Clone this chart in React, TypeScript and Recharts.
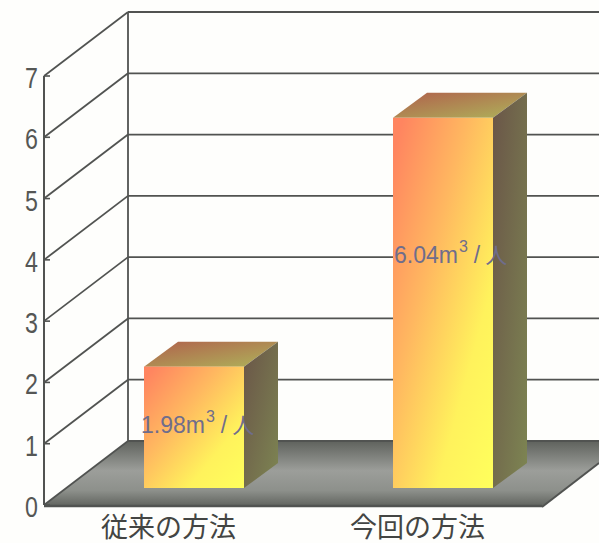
import { Bar, BarChart, LabelList, XAxis, YAxis, usePlotArea } from "recharts";

const methods = ["従来の方法", "今回の方法"];
const volumes = [1.98, 6.04];
const yTicks = [0, 1, 2, 3, 4, 5, 6, 7];

const chartData = methods.map((method, i) => ({
  method,
  volume: volumes[i],
}));

const LINE = "#515351";
const WALL_DX = 84;
const WALL_DY = 64;
const BAR_DX = 25;
const BAR_DY = 17;
const DEPTH_X = 34;
const DEPTH_Y = 25;
const YMAX = 7;
// where each bar's caption sits relative to the bar's foot
const CAPTION_PLACEMENT = [
  { dx: -3, lift: 55 },
  { dx: 1, lift: 225 },
];

// back wall, side wall and floor of the 3D box
function Walls() {
  const plot = usePlotArea();
  if (!plot) return null;
  const yOf = (v: number) => plot.y + plot.height * (1 - v / YMAX);
  const left = plot.x;
  const right = plot.x + plot.width - 1;
  const base = yOf(0);
  const backX = left + WALL_DX;
  return (
    <g>
      <defs>
        <linearGradient id="floor" x1="0" y1="0" x2="0" y2="1">
          <stop offset="0" stopColor="#5f625d" />
          <stop offset="0.45" stopColor="#9c9e9a" />
          <stop offset="0.75" stopColor="#8d908b" />
          <stop offset="1" stopColor="#5e615c" />
        </linearGradient>
        <linearGradient id="front" x1="0" y1="0" x2="1" y2="1">
          <stop offset="0.05" stopColor="#ff8560" />
          <stop offset="0.38" stopColor="#ffb860" />
          <stop offset="0.72" stopColor="#fff25c" />
          <stop offset="1" stopColor="#ffff5c" />
        </linearGradient>
        <linearGradient id="side" x1="0" y1="0" x2="1" y2="1">
          <stop offset="0" stopColor="#6a5548" />
          <stop offset="1" stopColor="#7d8552" />
        </linearGradient>
        <linearGradient id="top" x1="0" y1="0" x2="1" y2="1">
          <stop offset="0" stopColor="#b0604c" />
          <stop offset="1" stopColor="#aeb45a" />
        </linearGradient>
      </defs>
      <polygon
        points={`${left},${base} ${backX},${base - WALL_DY} 599,${base - WALL_DY} 599,${base - 42} ${right + 1},${base + 2} ${left},${base + 2}`}
        fill="url(#floor)"
      />
      <line x1={right + 1} y1={base + 2} x2={599} y2={base - 42} stroke={LINE} strokeWidth={2} />
      <line x1={left} y1={base + 1} x2={right + 1} y2={base + 1} stroke={LINE} strokeWidth={2.5} />
      <line x1={backX} y1={yOf(YMAX) - WALL_DY} x2={backX} y2={base - WALL_DY} stroke={LINE} strokeWidth={1.8} />
      {yTicks.map((t) => (
        <g key={t}>
          <line x1={left} y1={yOf(t)} x2={backX} y2={yOf(t) - WALL_DY} stroke={LINE} strokeWidth={1.8} />
          <line x1={backX} y1={yOf(t) - WALL_DY} x2={599} y2={yOf(t) - WALL_DY} stroke={LINE} strokeWidth={1.8} />
        </g>
      ))}
    </g>
  );
}

function Block(props: any) {
  const x = props.x + BAR_DX;
  const y = props.y - BAR_DY;
  const w = props.width;
  const h = props.height;
  return (
    <g>
      <polygon
        points={`${x},${y} ${x + DEPTH_X},${y - DEPTH_Y} ${x + w + DEPTH_X},${y - DEPTH_Y} ${x + w},${y}`}
        fill="url(#top)"
      />
      <polygon
        points={`${x + w},${y} ${x + w + DEPTH_X},${y - DEPTH_Y} ${x + w + DEPTH_X},${y + h - DEPTH_Y} ${x + w},${y + h}`}
        fill="url(#side)"
      />
      <rect x={x} y={y} width={w} height={h} fill="url(#front)" />
    </g>
  );
}

function VolumeLabel(props: any) {
  const box = props.viewBox ?? props;
  const place = CAPTION_PLACEMENT[props.index];
  return (
    <text
      x={box.x + BAR_DX + place.dx}
      y={box.y + box.height - BAR_DY - place.lift}
      fill="#6f6d8c"
      fontFamily="'Liberation Sans', Arial, sans-serif"
      fontSize={23}
    >
      {props.value.toFixed(2)}m
      <tspan dy={-11} dx={1} fontSize={16}>3</tspan>
      <tspan dy={11} dx={6}>/</tspan>
      <tspan dx={5} fontFamily="'Noto Sans CJK JP'" fontSize={22}>人</tspan>
    </text>
  );
}

function ValueTick({ x, y, payload }: any) {
  return (
    <g>
      <line x1={x + 8} y1={y} x2={x + 14} y2={y} stroke={LINE} strokeWidth={1.6} />
      <text
        transform={`translate(${x + 2} ${y + 12}) scale(0.8 1)`}
        textAnchor="end"
        fill="#555755"
        fontFamily="'Liberation Sans', sans-serif"
        fontSize={29}
      >
        {payload.value}
      </text>
    </g>
  );
}

export default function App() {
  return (
    <div style={{ position: "absolute", left: 0, top: 0, width: 599, height: 543, background: "#fefefc", overflow: "hidden" }}>
      <BarChart
        width={599}
        height={543}
        data={chartData}
        margin={{ top: 76, right: 57, bottom: 0, left: 0 }}
        barCategoryGap={0}
      >
        <Walls />
        <XAxis
          dataKey="method"
          height={38}
          axisLine={false}
          tickLine={false}
          tick={{ fill: "#434543", fontSize: 27, fontFamily: "'Noto Sans CJK JP'" }}
          tickMargin={7}
        />
        <YAxis
          width={44}
          domain={[0, YMAX]}
          ticks={yTicks}
          interval={0}
          tickLine={false}
          axisLine={{ stroke: LINE, strokeWidth: 2 }}
          tick={ValueTick}
        />
        <Bar dataKey="volume" barSize={100} shape={Block} isAnimationActive={false}>
          <LabelList dataKey="volume" content={VolumeLabel} />
        </Bar>
      </BarChart>
    </div>
  );
}
